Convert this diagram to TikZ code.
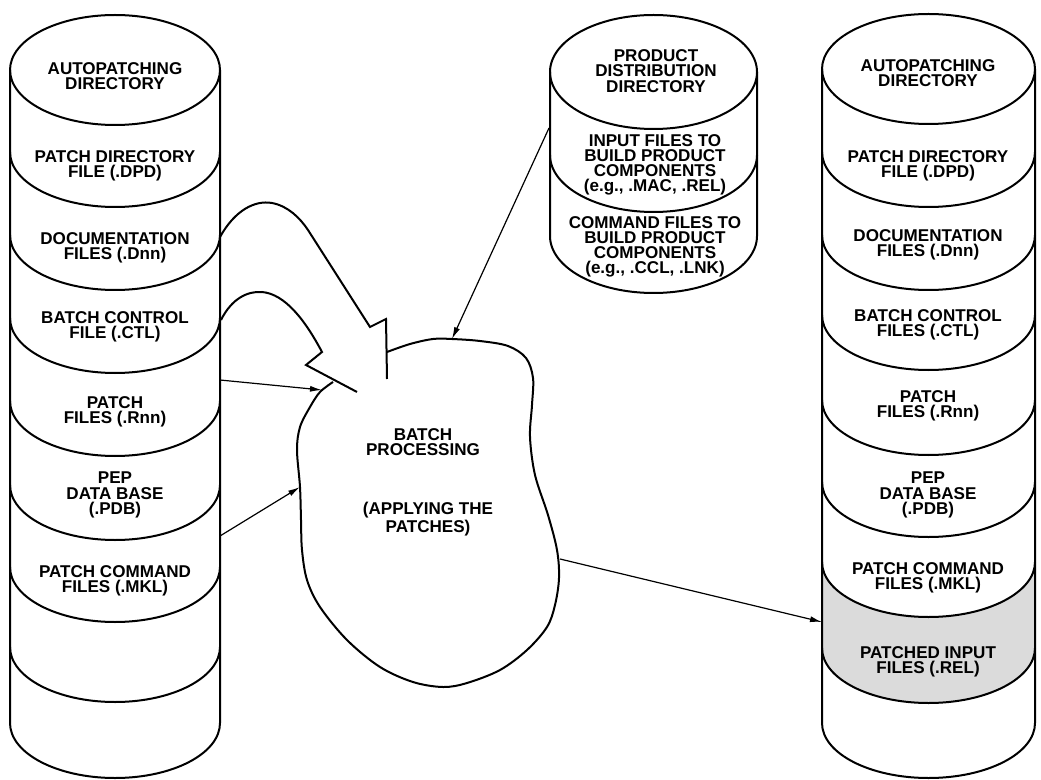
\documentclass[tikz,border=0pt]{standalone}
\usepackage{fontspec}
\setmainfont{Liberation Sans}
\usetikzlibrary{arrows.meta}
\begin{document}
\begin{tikzpicture}[x=0.75pt,y=0.75pt,
  cyl/.style={line width=1.5pt, line join=round},
  lbl/.style={font=\fontsize{12.8}{11.4}\selectfont\bfseries, align=center, inner sep=0pt},
  arr/.style={line width=0.9pt, -{Latex[length=9pt,width=4.5pt]}},
  bolt/.style={line width=1.5pt, line join=miter}]
\useasboundingbox (0,0) rectangle (1041,-780);

% ---------- left cylinder ----------
\draw[cyl] (10,-70) -- (10,-723) arc[start angle=180,end angle=360,x radius=105,y radius=55] -- (220,-70);
\draw[cyl] (115,-70) ellipse [x radius=105, y radius=55];
\foreach \b in {207,290,373,456,540,622,702}
  \draw[cyl] (10,-\b+55) arc[start angle=180,end angle=360,x radius=105,y radius=55];

\node[lbl] (l1) at (115,-76)  {AUTOPATCHING\\DIRECTORY};
\node[lbl] (l2) at (115,-166) {PATCH DIRECTORY\\FILE (.DPD)};
\node[lbl] (l3) at (115,-248) {DOCUMENTATION\\FILES (.Dnn)};
\node[lbl] (l4) at (115,-327) {BATCH CONTROL\\FILE (.CTL)};
\node[lbl] (l5) at (115,-412) {PATCH\\FILES (.Rnn)};
\node[lbl] (l6) at (115,-495) {PEP\\DATA BASE\\(.PDB)};
\node[lbl] (l7) at (115,-581) {PATCH COMMAND\\FILES (.MKL)};

% ---------- middle cylinder ----------
\draw[cyl] (550,-72) -- (550,-236) arc[start angle=180,end angle=360,x radius=103.5,y radius=57] -- (757,-72);
\draw[cyl] (653.5,-72) ellipse [x radius=103.5, y radius=57];
\draw[cyl] (550,-155) arc[start angle=180,end angle=360,x radius=103.5,y radius=57];

\node[lbl] (m1) at (656,-71)  {PRODUCT\\DISTRIBUTION\\DIRECTORY};
\node[lbl] (m2) at (655,-165) {INPUT FILES TO\\BUILD PRODUCT\\COMPONENTS\\(e.g., .MAC, .REL)};
\node[lbl] (m3) at (655,-247) {COMMAND FILES TO\\BUILD PRODUCT\\COMPONENTS\\(e.g., .CCL, .LNK)};

% ---------- right cylinder ----------
\fill[gray!28] (822,-562) arc[start angle=180,end angle=360,x radius=106.5,y radius=55]
   -- (1035,-648) arc[start angle=0,end angle=-180,x radius=106.5,y radius=55] -- cycle;
\draw[cyl] (822,-69) -- (822,-723) arc[start angle=180,end angle=360,x radius=106.5,y radius=55] -- (1035,-69);
\draw[cyl] (928.5,-69) ellipse [x radius=106.5, y radius=55];
\foreach \b in {207,290,370,455,537,617,703}
  \draw[cyl] (822,-\b+55) arc[start angle=180,end angle=360,x radius=106.5,y radius=55];

\node[lbl] (r1) at (928,-73)  {AUTOPATCHING\\DIRECTORY};
\node[lbl] (r2) at (928,-166) {PATCH DIRECTORY\\FILE (.DPD)};
\node[lbl] (r3) at (928,-245) {DOCUMENTATION\\FILES (.Dnn)};
\node[lbl] (r4) at (928,-325) {BATCH CONTROL\\FILES (.CTL)};
\node[lbl] (r5) at (928,-406) {PATCH\\FILES (.Rnn)};
\node[lbl] (r6) at (928,-495) {PEP\\DATA BASE\\(.PDB)};
\node[lbl] (r7) at (928,-578) {PATCH COMMAND\\FILES (.MKL)};
\node[lbl] (r8) at (928,-662) {PATCHED INPUT\\FILES (.REL)};

% ---------- batch processing cloud ----------
\draw[cyl] plot[smooth, tension=0.55] coordinates {
  (387,-352) (410,-344) (433,-339) (452,-339) (480,-341) (508,-346) (526,-358)
  (533,-378) (532,-405) (530,-437) (535,-475) (548,-515) (557,-550) (559,-578)
  (555,-605) (547,-627) (527,-650) (500,-670) (467,-683) (443,-687) (413,-682)
  (380,-667) (347,-640) (320,-607) (307,-580) (302,-550) (301,-520) (300,-487)
  (297,-450) (300,-427) (310,-407) (320,-392) (333,-382)};
\node[lbl] (c1) at (423,-442) {BATCH\\PROCESSING};
\node[lbl] (c2) at (428,-519) {(APPLYING THE\\PATCHES)};

% ---------- connector end points ----------
\coordinate (ldoc) at (220,-237);
\coordinate (lctl) at (221,-320);
\coordinate (lrnn) at (220,-380);
\coordinate (lpdb) at (220,-536);
\coordinate (tip1) at (387,-379);
\coordinate (tip2) at (357,-392);
\coordinate (crnn) at (322,-390);
\coordinate (cpdb) at (300,-487);
\coordinate (mside) at (549,-128);
\coordinate (ctop) at (452,-339);
\coordinate (cout) at (560,-559);
\coordinate (rin) at (822,-622);

% lightning connectors
\draw[bolt] (ldoc) .. controls (235,-210) and (255,-200) .. (272,-203)
   .. controls (288,-206) and (300,-218) .. (308,-230) -- (370,-327) -- (386,-319) -- (tip1);
\draw[bolt] (lctl) .. controls (232,-298) and (248,-291) .. (262,-292)
   .. controls (285,-294) and (305,-320) .. (322,-352) -- (306,-365) -- (tip2);

% arrows
\draw[arr] (lrnn) -- (crnn);
\draw[arr] (lpdb) -- (cpdb);
\draw[arr] (mside) -- (ctop);
\draw[arr] (cout) -- (rin);
\end{tikzpicture}
\end{document}
